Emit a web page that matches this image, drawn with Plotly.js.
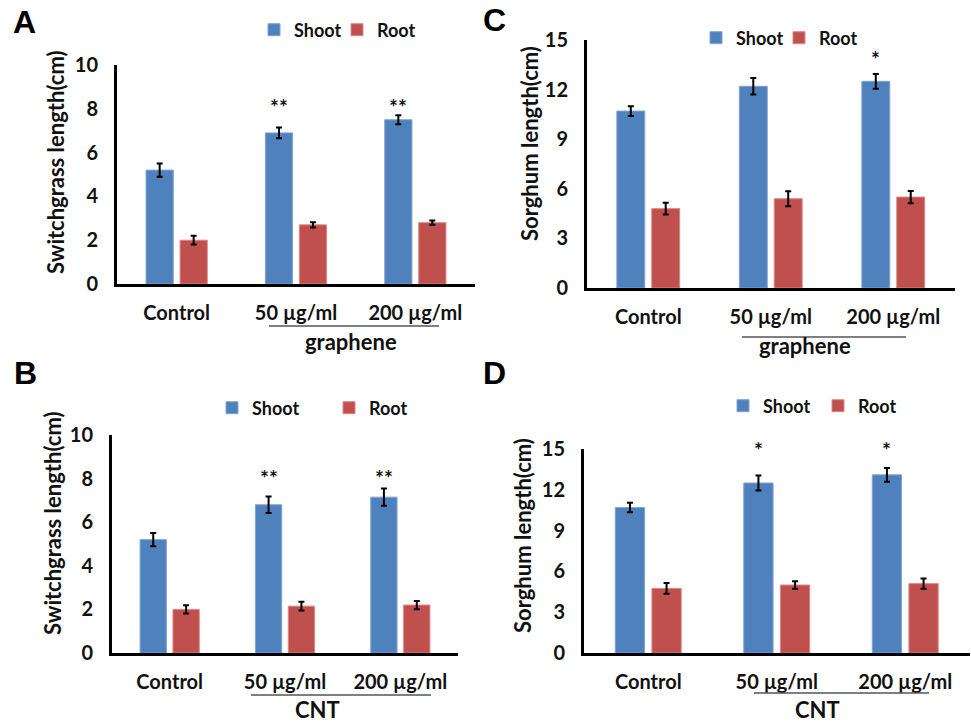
<!DOCTYPE html>
<html>
<head>
<meta charset="utf-8">
<script src="https://cdn.plot.ly/plotly-3.0.1.min.js"></script>
<style>
  html, body { margin: 0; padding: 0; background: #fff; }
  #chart { width: 971px; height: 723px; }
</style>
</head>
<body>
<div id="chart"></div>
<script>
// ---------------- DATA ----------------
const categories = ['Control', '50 µg/ml', '200 µg/ml'];
const seriesNames = ['Shoot', 'Root'];

// Panel A: switchgrass, graphene
const A_shoot    = [5.2, 6.9, 7.5];
const A_shootErr = [0.3, 0.25, 0.2];
const A_root     = [2.0, 2.7, 2.8];
const A_rootErr  = [0.2, 0.12, 0.1];
const A_sig      = ['', '**', '**'];

// Panel B: switchgrass, CNT
const B_shoot    = [5.2, 6.8, 7.15];
const B_shootErr = [0.3, 0.38, 0.4];
const B_root     = [2.0, 2.15, 2.2];
const B_rootErr  = [0.19, 0.2, 0.19];
const B_sig      = ['', '**', '**'];

// Panel C: sorghum, graphene
const C_shoot    = [10.7, 12.2, 12.5];
const C_shootErr = [0.3, 0.5, 0.45];
const C_root     = [4.8, 5.4, 5.5];
const C_rootErr  = [0.35, 0.45, 0.37];
const C_sig      = ['', '', '*'];

// Panel D: sorghum, CNT
const D_shoot    = [10.7, 12.5, 13.1];
const D_shootErr = [0.35, 0.55, 0.5];
const D_root     = [4.75, 5.0, 5.1];
const D_rootErr  = [0.4, 0.27, 0.37];
const D_sig      = ['', '*', '*'];

const yTitles = ['Switchgrass length(cm)', 'Sorghum length(cm)'];
const groupLabels = ['graphene', 'CNT'];
const panelLetters = ['A', 'B', 'C', 'D'];

// ---------------- LAYOUT HELPERS ----------------
const W = 971, H = 723;
const px = v => v / W;
const py = v => 1 - v / H;
const FONT = 'Lato, "Open Sans", sans-serif';
const INK = '#111111';
const BLUE = '#4F81BD', BLUE_EDGE = '#7FA4D4';
const RED = '#C0504D', RED_EDGE = '#DA8784';

const panels = [
  { letter: 'A', ax: '', shoot: A_shoot, shootErr: A_shootErr, root: A_root, rootErr: A_rootErr, sig: A_sig,
    ytitle: yTitles[0], group: groupLabels[0], ymax: 10, dtick: 2, sigY: 8.1,
    xd: [117, 475], yd: [65, 284], titlePos: [55, 162],
    legX: 254, legY: 30, entry: 38,
    letterPos: [24, 22], line: [269, 439, 326], groupPos: [351, 341] },
  { letter: 'C', ax: '2', shoot: C_shoot, shootErr: C_shootErr, root: C_root, rootErr: C_rootErr, sig: C_sig,
    ytitle: yTitles[1], group: groupLabels[0], ymax: 15, dtick: 3, sigY: 13.9,
    xd: [587, 954.5], yd: [40, 288], titlePos: [530, 144],
    legX: 696, legY: 38, entry: 38,
    letterPos: [494, 20], line: [742, 906, 337], groupPos: [805, 345] },
  { letter: 'B', ax: '3', shoot: B_shoot, shootErr: B_shootErr, root: B_root, rootErr: B_rootErr, sig: B_sig,
    ytitle: yTitles[0], group: groupLabels[1], ymax: 10, dtick: 2, sigY: 8.07,
    xd: [112, 458], yd: [435, 653], titlePos: [52, 523],
    legX: 212, legY: 408, entry: 72,
    letterPos: [25, 373], line: [251, 431, 695], groupPos: [317, 709] },
  { letter: 'D', ax: '4', shoot: D_shoot, shootErr: D_shootErr, root: D_root, rootErr: D_rootErr, sig: D_sig,
    ytitle: yTitles[1], group: groupLabels[1], ymax: 15, dtick: 3, sigY: 15.0,
    xd: [584, 969.5], yd: [449, 653], titlePos: [522, 536],
    legX: 723, legY: 406, entry: 50,
    letterPos: [494, 373], line: [754, 929, 693], groupPos: [817, 709] }
];

const data = [];
const layout = {
  width: W, height: H,
  margin: { l: 0, r: 0, t: 0, b: 0, pad: 0 },
  paper_bgcolor: '#ffffff', plot_bgcolor: 'rgba(0,0,0,0)',
  barmode: 'group', bargap: 0.43, bargroupgap: 0.2,
  font: { family: FONT, color: INK, size: 18, weight: 700 },
  showlegend: true,
  annotations: [], shapes: []
};

panels.forEach((p, i) => {
  const xa = 'x' + p.ax, ya = 'y' + p.ax;
  const legName = 'legend' + (i === 0 ? '' : (i + 1));
  data.push({
    type: 'bar', name: seriesNames[0], x: categories, y: p.shoot,
    xaxis: xa, yaxis: ya, legend: legName,
    marker: { color: BLUE, line: { color: BLUE_EDGE, width: 1 } },
    error_y: { type: 'data', array: p.shootErr, visible: true, color: '#000', thickness: 2, width: 3 },
    hoverinfo: 'y'
  });
  data.push({
    type: 'bar', name: seriesNames[1], x: categories, y: p.root,
    xaxis: xa, yaxis: ya, legend: legName,
    marker: { color: RED, line: { color: RED_EDGE, width: 1 } },
    error_y: { type: 'data', array: p.rootErr, visible: true, color: '#000', thickness: 2, width: 3 },
    hoverinfo: 'y'
  });

  layout['xaxis' + p.ax] = {
    domain: [px(p.xd[0]), px(p.xd[1])], anchor: ya,
    type: 'category', range: [-0.5, 2.5], fixedrange: true,
    showline: true, linecolor: '#000', linewidth: 3,
    ticks: '', showgrid: false, zeroline: false,
    tickfont: { family: FONT, size: 20, color: INK, weight: 700 },
    ticklabelstandoff: 9
  };
  layout['yaxis' + p.ax] = {
    domain: [py(p.yd[1]), py(p.yd[0])], anchor: xa,
    range: [0, p.ymax], dtick: p.dtick, tick0: 0, fixedrange: true,
    showline: true, linecolor: '#000', linewidth: 3,
    ticks: '', showgrid: false, zeroline: false,
    tickfont: { family: FONT, size: 20, color: INK, weight: 700 },
    ticklabelstandoff: 12
  };
  layout[legName] = {
    orientation: 'h', x: px(p.legX), y: py(p.legY), xanchor: 'left', yanchor: 'middle',
    xref: 'paper', yref: 'paper', bgcolor: 'rgba(0,0,0,0)', borderwidth: 0,
    entrywidth: p.entry, entrywidthmode: 'pixels', itemclick: false, itemdoubleclick: false,
    font: { family: FONT, size: 18, color: INK, weight: 700 }
  };

  // y-axis title (placed as rotated text to match the reference position)
  layout.annotations.push({
    xref: 'paper', yref: 'paper', x: px(p.titlePos[0]), y: py(p.titlePos[1]),
    text: p.ytitle, textangle: -90, showarrow: false, xanchor: 'center', yanchor: 'middle',
    font: { family: FONT, size: 22, color: INK, weight: 700 }
  });

  // significance marks above shoot bars
  p.sig.forEach((s, k) => {
    if (!s) return;
    layout.annotations.push({
      xref: xa, yref: ya, x: categories[k], y: p.sigY, text: s, showarrow: false,
      xshift: -(p.xd[1] - p.xd[0]) / 3 * 0.1425, yanchor: 'middle',
      font: { family: FONT, size: 21, color: INK, weight: 700 }
    });
  });

  // panel letter
  layout.annotations.push({
    xref: 'paper', yref: 'paper', x: px(p.letterPos[0]), y: py(p.letterPos[1]),
    text: p.letter, showarrow: false, xanchor: 'center', yanchor: 'middle',
    font: { family: '"Liberation Sans", Arial, sans-serif', size: 32, color: '#000', weight: 700 }
  });

  // bracket line under treatment labels + group label
  layout.shapes.push({
    type: 'line', xref: 'paper', yref: 'paper',
    x0: px(p.line[0]), x1: px(p.line[1]), y0: py(p.line[2]), y1: py(p.line[2]),
    line: { color: '#555', width: 1.5 }
  });
  layout.annotations.push({
    xref: 'paper', yref: 'paper', x: px(p.groupPos[0]), y: py(p.groupPos[1]),
    text: p.group, showarrow: false, xanchor: 'center', yanchor: 'middle',
    font: { family: FONT, size: 22, color: INK, weight: 700 }
  });
});

Plotly.newPlot('chart', data, layout, { staticPlot: true, displayModeBar: false });
</script>
</body>
</html>
